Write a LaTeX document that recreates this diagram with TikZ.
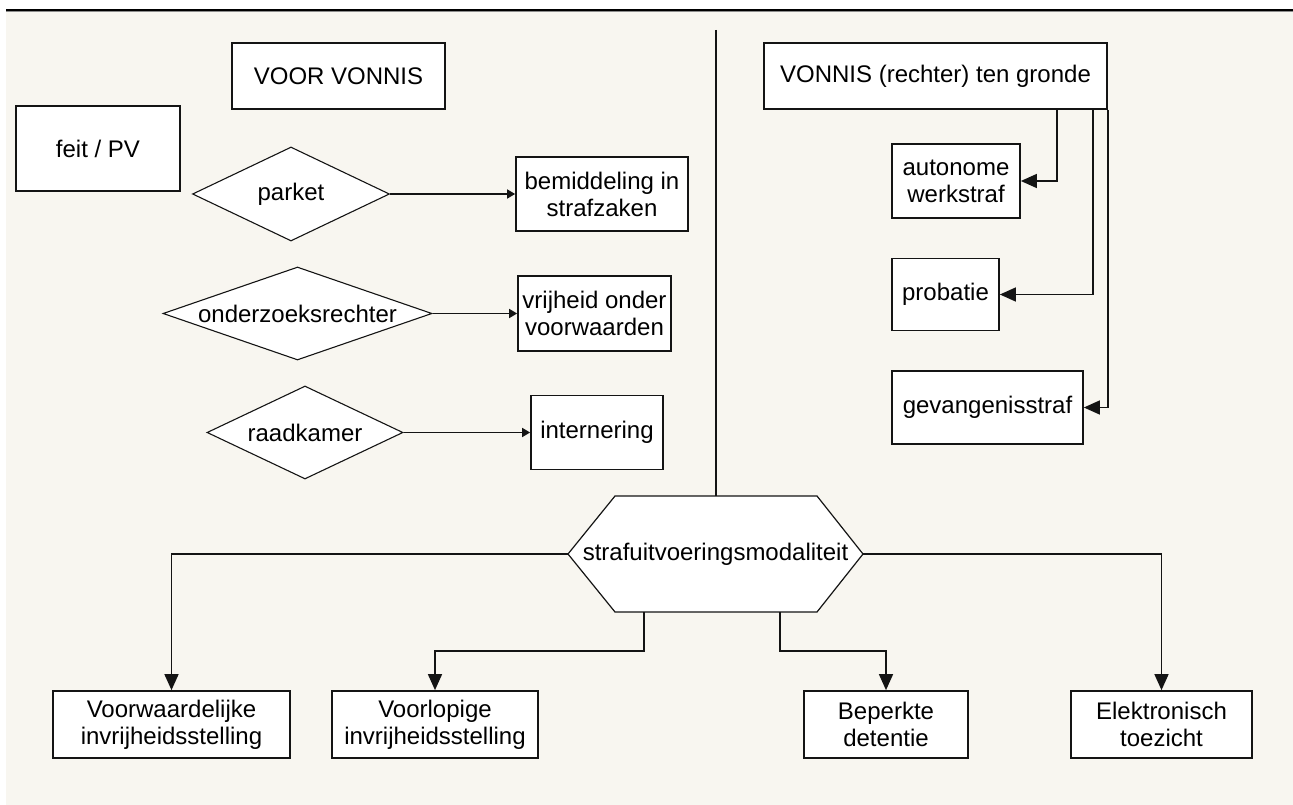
\documentclass[tikz,border=0pt]{standalone}
\usepackage{fontspec}
\setmainfont{Liberation Sans}
\usetikzlibrary{arrows.meta,shapes.geometric}
\definecolor{bgcream}{RGB}{248,246,240}
\definecolor{inkline}{RGB}{20,20,20}
\begin{document}
\begin{tikzpicture}[x=1pt,y=-1pt,
  every node/.style={font=\fontsize{24}{27}\selectfont, align=center, inner sep=0pt, text=black},
  box/.style 2 args={rectangle, draw=inkline, line width=1.7pt, fill=white, minimum width=#1, minimum height=#2},
  dia/.style 2 args={diamond, draw=inkline, line width=1.1pt, fill=white, minimum width=#1, minimum height=#2, inner sep=0pt},
  conn/.style={draw=inkline, line width=1.5pt},
  bigarrow/.style={conn, -{Triangle[length=16pt,width=14pt]}},
  smallarrow/.style={conn, -{Triangle[length=8pt,width=9pt]}}
]
\useasboundingbox (0,0) rectangle (1293,805);
% background and top rule
\fill[white] (0,0) rectangle (1293,805);
\fill[bgcream] (6,11) rectangle (1293,805);
\draw[black!45, line width=1pt] (6,11.8) -- (1293,11.8);
\draw[black, line width=2pt] (6,10) -- (1293,10);

% left column
\node[box={213}{66}] (voor) at (338.5,76) {VOOR VONNIS};
\node[box={164}{85}] (feit) at (98,148.5) {feit / PV};

\node[dia={197}{94}, label={center:parket}] (parket) at (291,194) {};
\node[dia={269}{93}, label={center:onderzoeksrechter}] (onderz) at (297.5,313.5) {};
\node[dia={196}{93}, label={center:raadkamer}] (raad) at (305,432.5) {};

\node[box={172}{74}] (bemid) at (602,194) {bemiddeling in\\strafzaken};
\node[box={153}{75}] (vrij) at (594.5,313.5) {vrijheid onder\\voorwaarden};
\node[box={132}{74}] (intern) at (597,432.5) {internering};

\draw[smallarrow] (parket.east) -- (bemid.west);
\draw[smallarrow] (onderz.east) -- (vrij.west);
\draw[smallarrow] (raad.east) -- (intern.west);

% right column
\node[box={343}{66}] (vonnis) at (935.5,76) {VONNIS (rechter) ten gronde};
\node[box={128}{74}] (aut) at (956,181) {autonome\\werkstraf};
\node[box={107}{72}] (prob) at (945.5,294.5) {probatie};
\node[box={191}{73}] (gev) at (987.5,407.5) {gevangenisstraf};

\draw[bigarrow] (vonnis.south east) ++(-51,0) |- (aut.east);
\draw[bigarrow] (vonnis.south east) ++(-15,0) |- (prob.east);
\draw[bigarrow] (vonnis.south east) |- (gev.east);

% hexagon
\coordinate (hL) at (568,554);
\coordinate (hTL) at (615,496);
\coordinate (hTR) at (817,496);
\coordinate (hR) at (863,554);
\coordinate (hBR) at (817,612);
\coordinate (hBL) at (615,612);
\coordinate (hT) at (716,496);
\coordinate (hB1) at (644,612);
\coordinate (hB2) at (780,612);
\coordinate (vtop) at (716,30);
\draw[conn] (vtop) -- (hT);
\draw[draw=inkline, line width=1.2pt, fill=white] (hL) -- (hTL) -- (hTR) -- (hR) -- (hBR) -- (hBL) -- cycle;
\node (hex) at (715.5,554) {strafuitvoeringsmodaliteit};

% bottom row
\node[box={237}{67}] (vw) at (171.5,724.5) {Voorwaardelijke\\invrijheidsstelling};
\node[box={206}{67}] (vl) at (435,724.5) {Voorlopige\\invrijheidsstelling};
\node[box={164}{67}] (bd) at (886,724.5) {Beperkte\\detentie};
\node[box={181}{67}] (et) at (1161.5,724.5) {Elektronisch\\toezicht};

\draw[bigarrow] (hL) -| (vw.north);
\draw[bigarrow] (hB1) -- ++(0,39) -| (vl.north);
\draw[bigarrow] (hB2) -- ++(0,39) -| (bd.north);
\draw[bigarrow] (hR) -| (et.north);
\end{tikzpicture}
\end{document}
